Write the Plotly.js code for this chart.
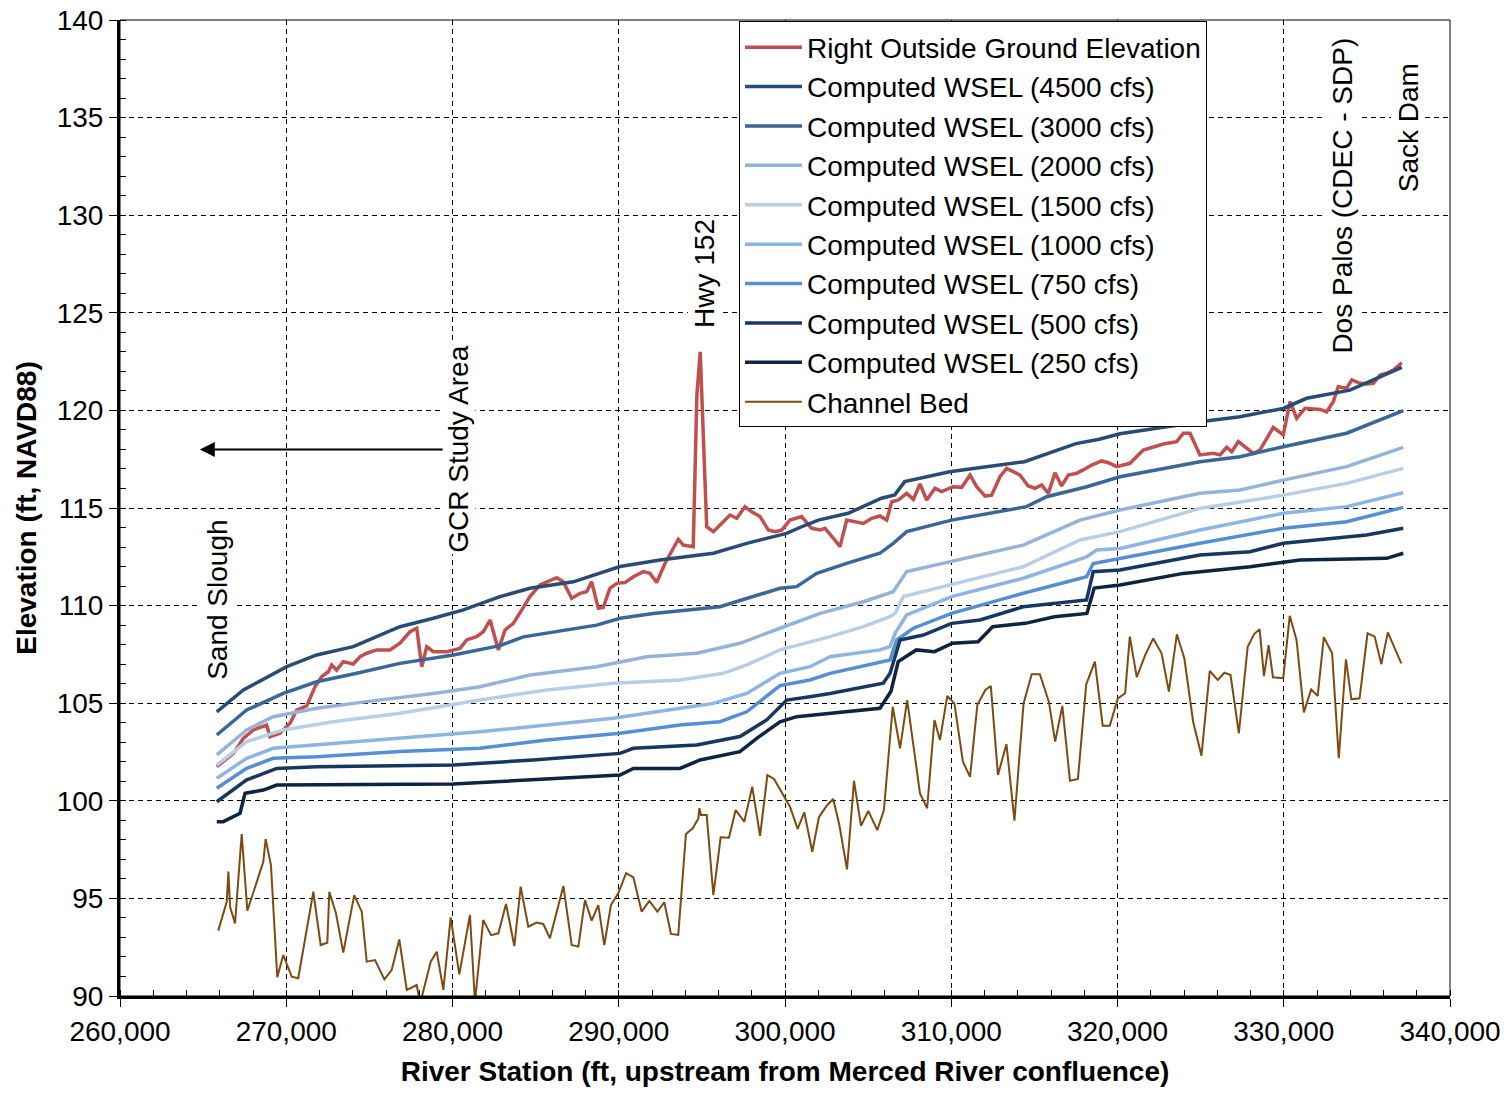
<!DOCTYPE html>
<html>
<head>
<meta charset="utf-8">
<script src="https://cdn.plot.ly/plotly-3.0.1.min.js"></script>
<style>
  html, body { margin: 0; padding: 0; background: #ffffff; }
  #chart { width: 1512px; height: 1094px; }
</style>
</head>
<body>
<div id="chart"></div>
<script>
// ---------------- DATA ----------------
const seriesNames = [
  "Right Outside Ground Elevation",
  "Computed WSEL (4500 cfs)",
  "Computed WSEL (3000 cfs)",
  "Computed WSEL (2000 cfs)",
  "Computed WSEL (1500 cfs)",
  "Computed WSEL (1000 cfs)",
  "Computed WSEL (750 cfs)",
  "Computed WSEL (500 cfs)",
  "Computed WSEL (250 cfs)",
  "Channel Bed"
];

// Right Outside Ground Elevation
const groundStation = [265820,266820,267420,268020,268820,269020,269620,270230,270630,271230,271730,272130,272530,272730,273030,273430,274030,274440,274840,275440,276240,276840,277440,277850,278150,278450,278850,279650,280450,280850,281450,281850,282260,282760,283160,283660,284160,284660,285260,286270,286660,287170,287670,288070,288370,288770,289070,289470,289880,290370,290880,291480,291880,292280,292780,293180,293580,293880,294480,294700,294900,295290,295690,296290,296690,297100,297590,297990,298500,299000,299400,299800,300300,301000,301600,302110,302410,302910,303310,303710,304310,304710,305210,305710,306120,306420,306820,307320,307720,308120,308520,309020,309420,310120,310630,311130,311530,312030,312430,312930,313330,313730,314130,314630,315040,315440,315840,316240,316640,317040,317540,317940,318450,319050,319450,319950,320750,321550,322150,322760,323560,323960,324360,324960,325760,326170,326570,326870,327270,327770,328170,328570,329370,329970,330380,330780,331280,332180,332580,332980,333280,333780,334090,334590,334990,335390,335790,336190,336590,337100];
const groundElev = [101.75,102.43,103.20,103.63,103.88,103.28,103.46,103.97,104.65,104.86,105.84,106.36,106.61,106.96,106.70,107.13,107.01,107.38,107.56,107.73,107.73,108.07,108.66,108.84,106.87,107.89,107.64,107.64,107.81,108.24,108.41,108.66,109.26,107.73,108.75,109.09,109.77,110.46,111.06,111.43,111.22,110.37,110.63,110.71,111.22,109.86,109.91,110.89,111.14,111.18,111.48,111.74,111.65,111.18,112.16,112.76,113.40,113.10,113.02,120.80,123.00,114.04,113.79,114.30,114.64,114.47,115.07,114.81,114.56,113.87,113.79,113.87,114.38,114.56,113.96,113.87,113.96,113.45,113.02,114.38,114.30,114.21,114.47,114.59,114.38,115.32,115.41,115.75,115.44,116.23,115.41,116.01,115.84,116.09,116.06,116.69,116.09,115.61,115.66,116.60,117.03,116.86,116.69,116.13,116.01,116.18,115.75,116.81,116.13,116.69,116.78,116.95,117.20,117.41,117.32,117.12,117.29,117.97,118.11,118.28,118.40,118.83,118.83,117.72,117.80,117.72,118.11,117.88,118.40,118.06,117.80,117.97,119.13,118.74,120.45,119.59,120.11,120.05,119.93,120.45,121.21,121.13,121.56,121.39,121.35,121.39,121.81,121.90,122.07,122.44];

// Computed WSEL profiles
const wsel4500Station = [265820,267420,270030,271830,274030,276840,278850,280650,282860,284660,287270,290080,292480,295690,297700,300100,301000,302000,303800,305800,306600,307200,309900,314400,317500,318900,320150,324960,327370,329970,331380,333980,337100];
const wsel4500 = [104.56,105.68,106.87,107.47,107.90,108.92,109.35,109.78,110.46,110.89,111.22,112.00,112.34,112.68,113.19,113.70,114.04,114.38,114.73,115.50,115.67,116.35,116.86,117.37,118.30,118.52,118.80,119.42,119.68,120.10,120.62,121.04,122.20];

const wsel3000Station = [265820,267620,269820,271830,274240,276840,280050,282860,284260,286660,288670,290080,292080,296090,297700,299700,300700,301910,303710,305710,306510,307320,310020,314530,315740,318150,320150,324960,327370,329970,333780,337190];
const wsel3000 = [103.37,104.65,105.50,106.10,106.53,107.04,107.47,107.95,108.40,108.75,109.00,109.35,109.60,109.94,110.37,110.89,110.97,111.65,112.16,112.68,113.19,113.79,114.38,115.07,115.58,116.09,116.60,117.37,117.63,118.14,118.83,119.99];

const wsel2000Station = [265820,267620,269220,271830,274840,278850,281650,284660,288670,291680,294690,297290,299700,302110,304710,306120,306510,307320,310020,314330,317740,320150,324960,327370,329970,333780,337190];
const wsel2000 = [102.35,103.63,104.31,104.74,105.08,105.50,105.84,106.44,106.87,107.38,107.56,108.07,108.84,109.60,110.20,110.63,110.71,111.74,112.25,113.10,114.38,114.90,115.75,115.92,116.43,117.12,118.11];

const wsel1500Station = [265820,267620,269820,272830,276840,281650,285670,289670,293680,296290,297700,299700,302710,304710,306320,306620,307120,310020,314330,317740,320150,324960,329970,333780,337190];
const wsel1500 = [101.83,103.03,103.63,104.05,104.48,105.16,105.68,106.02,106.19,106.53,106.96,107.73,108.41,108.92,109.43,109.60,110.46,111.06,111.99,113.36,113.79,114.98,115.66,116.26,117.03];

const wsel1000Station = [265820,267620,269220,271830,276840,281650,285670,289670,292280,295690,297700,299700,301500,302710,305710,306320,306620,307320,310020,314330,318140,318750,320150,324960,329970,333780,337190];
const wsel1000 = [101.15,102.18,102.69,102.86,103.20,103.54,103.88,104.23,104.56,104.99,105.50,106.53,106.87,107.38,107.73,107.90,108.58,109.52,110.46,111.40,112.50,112.85,112.93,113.87,114.73,115.07,115.78];

const wsel750Station = [265820,267620,269220,271830,276840,281650,285670,290080,293680,296090,297700,299700,301500,302710,306320,306720,307720,310020,314330,318140,318540,320150,324960,329970,333780,337190];
const wsel750 = [100.64,101.66,102.18,102.26,102.52,102.69,103.12,103.46,103.88,104.05,104.56,105.90,106.19,106.53,107.21,108.24,108.84,109.60,110.63,111.48,112.16,112.42,113.19,113.96,114.30,115.03];

const wsel500Station = [265820,267620,269430,271830,280050,284840,290080,290880,294690,297290,298900,300100,301500,302710,305910,306320,306920,308320,310020,311730,314330,318140,318540,320150,324960,327970,329970,334980,337190];
const wsel500 = [99.95,101.07,101.66,101.75,101.83,102.09,102.43,102.69,102.86,103.29,104.14,105.16,105.33,105.50,106.02,106.53,108.24,108.49,109.09,109.26,109.94,110.29,111.74,111.82,112.59,112.76,113.19,113.62,113.96];

const wsel250Station = [265820,266210,267220,267520,268620,269430,280050,284860,290080,290880,293680,294890,297290,298300,299700,300700,301700,305710,306370,306810,307900,308990,310080,311610,312490,314450,316200,318160,318600,320150,323960,327970,330980,336190,337190];
const wsel250 = [98.93,98.93,99.36,100.38,100.55,100.81,100.86,101.07,101.32,101.66,101.66,102.09,102.52,103.20,104.05,104.31,104.40,104.74,105.60,107.13,107.73,107.64,108.07,108.15,108.92,109.09,109.43,109.60,110.90,111.06,111.65,111.99,112.34,112.42,112.68];

// Channel Bed
const bedStation = [265910,266420,266520,266620,266920,267320,267660,268180,268620,268760,269080,269460,269820,270330,270720,271630,272070,272470,272590,272990,273430,274090,274540,274840,275340,275900,276340,276800,277250,277850,278050,278690,279050,279450,279890,280410,281050,281350,281850,282320,282760,283220,283720,284100,284560,285060,285460,285860,286670,287170,287570,287970,288370,288770,289130,289530,289970,290440,290880,291380,291840,292320,292740,293140,293580,294040,294450,294790,294850,294950,295290,295690,296130,296630,297030,297550,298030,298500,298940,299340,299800,300300,300760,301160,301640,302040,302510,302900,303270,303730,304150,304570,305010,305550,305950,306480,306920,307350,308120,308550,308990,309320,309760,310190,310700,311130,311570,312050,312380,312810,313320,313800,314350,314840,315330,315870,316250,316680,317140,317620,318120,318640,319110,319540,320020,320460,320740,321160,321670,322150,322650,323090,323570,324020,324550,325050,325550,326030,326430,326800,327300,327830,328220,328550,328810,329090,329350,329970,330360,330770,331210,331650,332040,332410,332910,333310,333740,334070,334560,335040,335470,335870,336260,336700,337070];
const bedElev = [93.35,94.83,96.37,94.57,93.72,98.30,94.37,95.69,96.88,98.04,96.71,90.96,92.10,90.99,90.91,95.34,92.61,92.73,95.34,94.24,92.22,95.17,94.32,91.76,91.84,90.85,91.33,92.90,90.31,90.56,89.60,91.76,92.27,90.31,94.03,91.11,94.15,89.70,93.89,93.12,93.21,94.71,92.56,95.60,93.55,93.76,93.69,92.96,95.64,92.61,92.53,94.92,93.86,94.66,92.61,94.66,95.26,96.29,96.08,94.32,94.87,94.32,94.80,93.18,93.13,98.30,98.59,99.10,99.62,99.27,99.27,95.17,98.13,98.11,99.53,98.93,100.72,98.20,101.32,101.12,100.47,99.70,98.56,99.41,97.39,99.16,99.75,100.09,98.76,96.49,101.02,98.72,99.48,98.50,99.53,104.82,102.69,105.16,100.38,99.62,104.14,103.11,105.37,104.99,102.00,101.23,104.91,105.68,105.88,101.32,102.91,98.98,104.99,106.48,106.48,105.08,103.03,104.86,101.03,101.12,105.97,107.13,103.85,103.85,105.25,105.51,108.41,106.33,107.47,108.32,107.56,105.59,108.53,107.30,104.05,102.31,106.66,106.19,106.56,106.44,103.46,107.89,108.54,108.79,106.39,107.98,106.33,106.28,109.48,108.24,104.53,105.71,105.37,108.38,107.56,102.18,107.25,105.20,105.25,108.58,108.41,107.00,108.63,107.73,107.04];

// Site labels
const siteLabels   = ["Sand Slough", "GCR Study Area", "Hwy 152", "Dos Palos (CDEC - SDP)", "Sack Dam"];
const siteStations = [265900, 280350, 295200, 333560, 337470];
const siteElev     = [110.3, 118.0, 127.0, 131.0, 134.5];

// Axis ticks
const xTicks = [260000,270000,280000,290000,300000,310000,320000,330000,340000];
const yTicks = [90,95,100,105,110,115,120,125,130,135,140];

// ---------------- STYLE ----------------
const FONT = "Liberation Sans, Arial, sans-serif";
const colors = ["#C0504D","#2A4B73","#3A6699","#95B3D7","#B9CDE5","#8DB4E2","#558ED5","#17375E","#0F243E","#7F4A10"];
const widths = [3.5,3.5,3.5,3.5,3.5,3.5,3.5,3.5,3.5,2];

const xs = [groundStation, wsel4500Station, wsel3000Station, wsel2000Station, wsel1500Station, wsel1000Station, wsel750Station, wsel500Station, wsel250Station, bedStation];
const ys = [groundElev, wsel4500, wsel3000, wsel2000, wsel1500, wsel1000, wsel750, wsel500, wsel250, bedElev];

const traces = seriesNames.map((name, i) => ({
  type: "scatter",
  mode: "lines",
  name: name,
  x: xs[i],
  y: ys[i],
  line: { color: colors[i], width: widths[i] },
  hoverinfo: "skip"
}));

const annotations = siteLabels.map((t, i) => ({
  x: siteStations[i], y: siteElev[i], xref: "x", yref: "y",
  text: t, textangle: -90, showarrow: false,
  bgcolor: "#ffffff",
  font: { family: FONT, size: 28, color: "#000000" },
  xanchor: "center", yanchor: "middle"
}));
// arrow pointing downstream (left) from the GCR study area label
annotations.push({
  x: 264800, y: 118.0, xref: "x", yref: "y",
  ax: 279500, ay: 118.0, axref: "x", ayref: "y",
  text: "", showarrow: true, arrowhead: 2, arrowsize: 1.5, arrowwidth: 2,
  arrowcolor: "#000000"
});

const layout = {
  width: 1512, height: 1094,
  paper_bgcolor: "#ffffff", plot_bgcolor: "#ffffff",
  margin: { l: 120, r: 62, t: 20, b: 98 },
  font: { family: FONT, size: 28, color: "#000000" },
  showlegend: true,
  legend: {
    x: 0.4654, y: 0.9985, xanchor: "left", yanchor: "top",
    bgcolor: "#ffffff", bordercolor: "#000000", borderwidth: 1,
    font: { family: FONT, size: 28, color: "#000000" },
    traceorder: "normal", tracegroupgap: 0,
    itemwidth: 57
  },
  xaxis: {
    range: [260000, 340000], tickvals: xTicks, tickformat: ",d",
    ticks: "outside", ticklen: 8, tickwidth: 1, tickcolor: "#000000",
    minor: { dtick: 2000, ticks: "inside", ticklen: 6, tickwidth: 1, tickcolor: "#000000", showgrid: false },
    showline: true, linecolor: "#000000", linewidth: 3,
    showgrid: true, gridcolor: "#000000", gridwidth: 1, griddash: "5px,4px",
    zeroline: false,
    tickfont: { family: FONT, size: 28, color: "#000000" },
    title: { text: "River Station (ft, upstream from Merced River confluence)", font: { family: FONT, size: 28, weight: "bold", color: "#000000" }, standoff: 16 }
  },
  yaxis: {
    range: [90, 140], tickvals: yTicks,
    ticks: "outside", ticklen: 8, tickwidth: 1, tickcolor: "#000000",
    minor: { dtick: 1, ticks: "inside", ticklen: 6, tickwidth: 1, tickcolor: "#000000", showgrid: false },
    showline: true, linecolor: "#000000", linewidth: 3,
    showgrid: true, gridcolor: "#000000", gridwidth: 1, griddash: "5px,4px",
    zeroline: false,
    tickfont: { family: FONT, size: 28, color: "#000000" },
    title: { text: "Elevation (ft, NAVD88)", font: { family: FONT, size: 28, weight: "bold", color: "#000000" }, standoff: 12 }
  },
  shapes: [
    { type: "rect", xref: "paper", yref: "paper", x0: 0, x1: 1, y0: 0, y1: 1,
      line: { color: "#000000", width: 1 }, fillcolor: "rgba(0,0,0,0)", layer: "above" }
  ],
  annotations: annotations
};

Plotly.newPlot("chart", traces, layout, { displayModeBar: false, staticPlot: true });
</script>
</body>
</html>
